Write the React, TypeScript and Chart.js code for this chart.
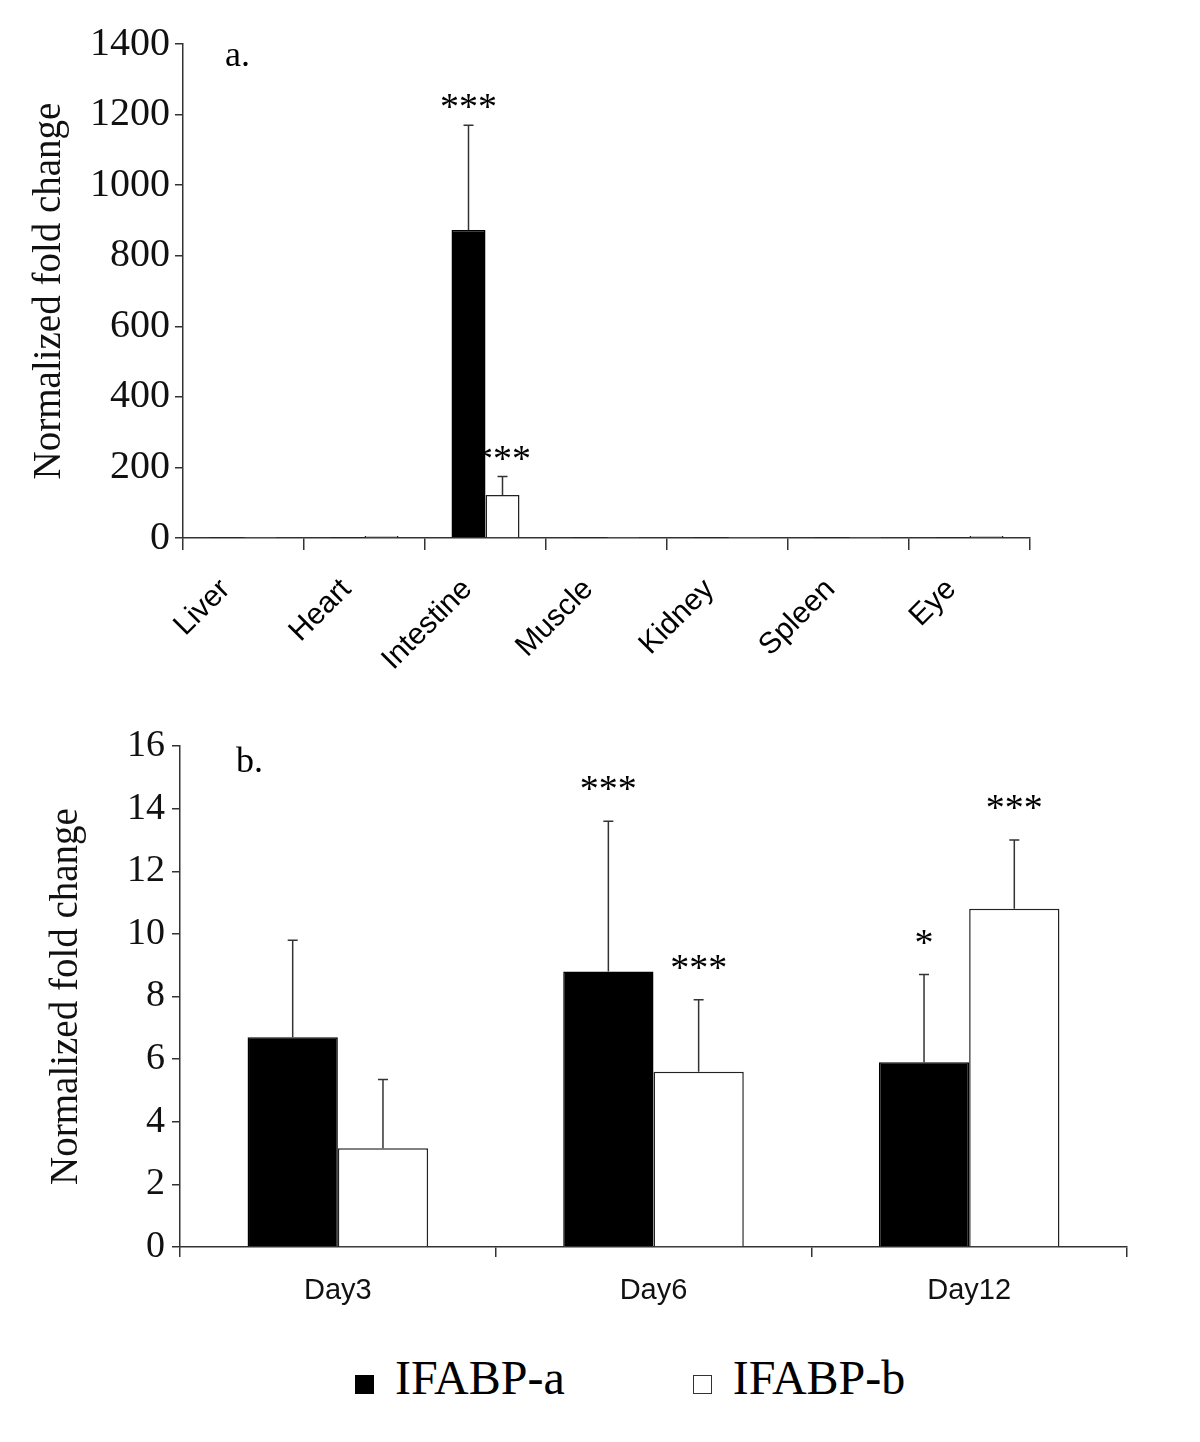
import React, { useEffect, useRef } from "react";
import { Chart, registerables } from "chart.js";

Chart.register(...registerables);

const SERIF = "'Liberation Serif', 'Times New Roman', serif";
const SANS = "'Liberation Sans', Arial, sans-serif";

// ---------- data ----------
const seriesNames = ["IFABP-a", "IFABP-b"];
const seriesFill = ["#000000", "#ffffff"];

// Panel a: tissues
const tissues = ["Liver", "Heart", "Intestine", "Muscle", "Kidney", "Spleen", "Eye"];
const tissueA = [1, 1, 873, 1, 1, 1, 1];
const tissueB = [1, 6, 122, 1, 1, 1, 6];
const tissueErrA = [0, 0, 297, 0, 0, 0, 0];
const tissueErrB = [0, 0, 52, 0, 0, 0, 0];
const tissueSigA = ["", "", "***", "", "", "", ""];
const tissueSigB = ["", "", "***", "", "", "", ""];
const tissueMax = 1400;
const tissueStep = 200;

// Panel b: days
const days = ["Day3", "Day6", "Day12"];
const dayA = [6.7, 8.8, 5.9];
const dayB = [3.15, 5.6, 10.8];
const dayErrA = [3.1, 4.8, 2.8];
const dayErrB = [2.2, 2.3, 2.2];
const daySigA = ["", "***", "*"];
const daySigB = ["", "***", "***"];
const dayMax = 16;
const dayStep = 2;

const yTitle = "Normalized fold change";

// ---------- plugins ----------
function errorBars(errors: number[][], sigs: string[][], sigGap: number, sigFont: string) {
  return {
    id: "errorBars",
    afterDatasetsDraw(chart: any) {
      const { ctx } = chart;
      const yScale = chart.scales.y;
      ctx.save();
      chart.data.datasets.forEach((ds: any, i: number) => {
        const meta = chart.getDatasetMeta(i);
        meta.data.forEach((bar: any, j: number) => {
          const err = errors[i][j] || 0;
          const v = ds.data[j];
          const x = bar.x;
          const y0 = bar.y;
          let yTop = y0;
          if (err > 0) {
            yTop = yScale.getPixelForValue(v + err);
            ctx.strokeStyle = "#333";
            ctx.lineWidth = 1.5;
            ctx.beginPath();
            ctx.moveTo(x, y0);
            ctx.lineTo(x, yTop);
            ctx.moveTo(x - 5, yTop);
            ctx.lineTo(x + 5, yTop);
            ctx.stroke();
          }
          const s = sigs[i][j];
          if (s) {
            ctx.fillStyle = "#000";
            ctx.font = sigFont;
            ctx.textAlign = "center";
            ctx.textBaseline = "alphabetic";
            ctx.fillText(s, x, yTop - sigGap);
          }
        });
      });
      ctx.restore();
    },
  };
}

function panelLabel(text: string, dx: number, dy: number) {
  return {
    id: "panelLabel",
    afterDraw(chart: any) {
      const { ctx, chartArea } = chart;
      ctx.save();
      ctx.fillStyle = "#000";
      ctx.font = `36px ${SERIF}`;
      ctx.textAlign = "left";
      ctx.textBaseline = "alphabetic";
      ctx.fillText(text, chartArea.left + dx, chartArea.top + dy);
      ctx.restore();
    },
  };
}

function buildConfig(o: any) {
  return {
    type: "bar",
    data: {
      labels: o.labels,
      datasets: [o.a, o.b].map((d: number[], i: number) => ({
        label: seriesNames[i],
        data: d,
        backgroundColor: seriesFill[i],
        borderColor: i === 0 ? "#000" : "#222",
        borderWidth: 1.5,
        borderSkipped: "start",
        barPercentage: 1,
        categoryPercentage: o.catPct,
      })),
    },
    options: {
      responsive: false,
      animation: false,
      events: [],
      layout: { padding: o.padding },
      plugins: { legend: { display: false }, tooltip: { enabled: false }, title: { display: false } },
      scales: {
        x: {
          type: "category",
          offset: true,
          grid: { offset: true, drawOnChartArea: false, drawTicks: true, tickLength: o.xTickLen, color: "#333", lineWidth: 1.5 },
          border: { display: true, color: "#333", width: 1.5 },
          ticks: {
            color: o.xColor,
            font: { family: SANS, size: o.xFont },
            minRotation: o.rot,
            maxRotation: o.rot,
            padding: o.xPad,
            labelOffset: o.xLabelOffset,
            autoSkip: false,
          },
          afterFit: (s: any) => {
            s.height = o.xAxisHeight;
          },
        },
        y: {
          min: 0,
          max: o.max,
          grid: { drawOnChartArea: false, drawTicks: true, tickLength: 8, color: "#333", lineWidth: 1.5 },
          border: { display: true, color: "#333", width: 1.5 },
          ticks: {
            stepSize: o.step,
            color: "#111",
            font: { family: SERIF, size: o.yFont },
            padding: o.yPad,
            callback: (v: any) => String(v),
          },
          title: {
            display: true,
            text: yTitle,
            color: "#111",
            font: { family: SERIF, size: 39 },
            padding: { top: o.titlePad, bottom: 0 },
          },
          afterFit: (s: any) => {
            s.width = o.yAxisWidth;
          },
        },
      },
    },
    plugins: [errorBars(o.errs, o.sigs, o.sigGap, `38px ${SERIF}`), panelLabel(o.panel, o.panelDx, o.panelDy)],
  } as any;
}

export default function App() {
  const refA = useRef<HTMLCanvasElement>(null);
  const refB = useRef<HTMLCanvasElement>(null);

  useEffect(() => {
    const chartA = new Chart(
      refA.current!,
      buildConfig({
        labels: tissues,
        a: tissueA,
        b: tissueB,
        errs: [tissueErrA, tissueErrB],
        sigs: [tissueSigA, tissueSigB],
        max: tissueMax,
        step: tissueStep,
        catPct: 0.562,
        padding: { left: 0, top: 36, right: 162, bottom: 0 },
        yAxisWidth: 175,
        xAxisHeight: 170,
        titlePad: 18,
        yPad: 5,
        yFont: 40,
        xTickLen: 12,
        xPad: 22,
        xFont: 30,
        xLabelOffset: -18,
        xColor: "#000",
        rot: 45,
        sigGap: 6,
        panel: "a.",
        panelDx: 42,
        panelDy: 22,
      })
    );
    const chartB = new Chart(
      refB.current!,
      buildConfig({
        labels: days,
        a: dayA,
        b: dayB,
        errs: [dayErrA, dayErrB],
        sigs: [daySigA, daySigB],
        max: dayMax,
        step: dayStep,
        catPct: 0.572,
        padding: { left: 0, top: 38, right: 65, bottom: 0 },
        yAxisWidth: 172,
        xAxisHeight: 93,
        titlePad: 35,
        yPad: 7,
        yFont: 38,
        xTickLen: 10,
        xPad: 17,
        xFont: 29,
        xLabelOffset: 0,
        xColor: "#111",
        rot: 0,
        sigGap: 20,
        panel: "b.",
        panelDx: 56,
        panelDy: 26,
      })
    );
    return () => {
      chartA.destroy();
      chartB.destroy();
    };
  }, []);

  return (
    <div style={{ position: "relative", width: 1184, height: 1426 }}>
      <canvas ref={refA} width={1184} height={700} style={{ position: "absolute", left: 0, top: 0 }} />
      <canvas ref={refB} width={1184} height={632} style={{ position: "absolute", left: 0, top: 700 }} />
      <div
        style={{
          position: "absolute",
          left: 347,
          top: 1346,
          display: "flex",
          gap: 128,
          fontFamily: SERIF,
          fontSize: 48,
          lineHeight: "48px",
          color: "#000",
          whiteSpace: "nowrap",
        }}
      >
        {seriesNames.map((name, i) => (
          <span key={name}>
            <span
              style={{
                display: "inline-block",
                width: 19,
                height: 19,
                boxSizing: "border-box",
                background: seriesFill[i],
                border: i === 0 ? "1px solid #000" : "1px solid #333",
                marginRight: 21,
                verticalAlign: "baseline",
              }}
            />
            {name}
          </span>
        ))}
      </div>
    </div>
  );
}
